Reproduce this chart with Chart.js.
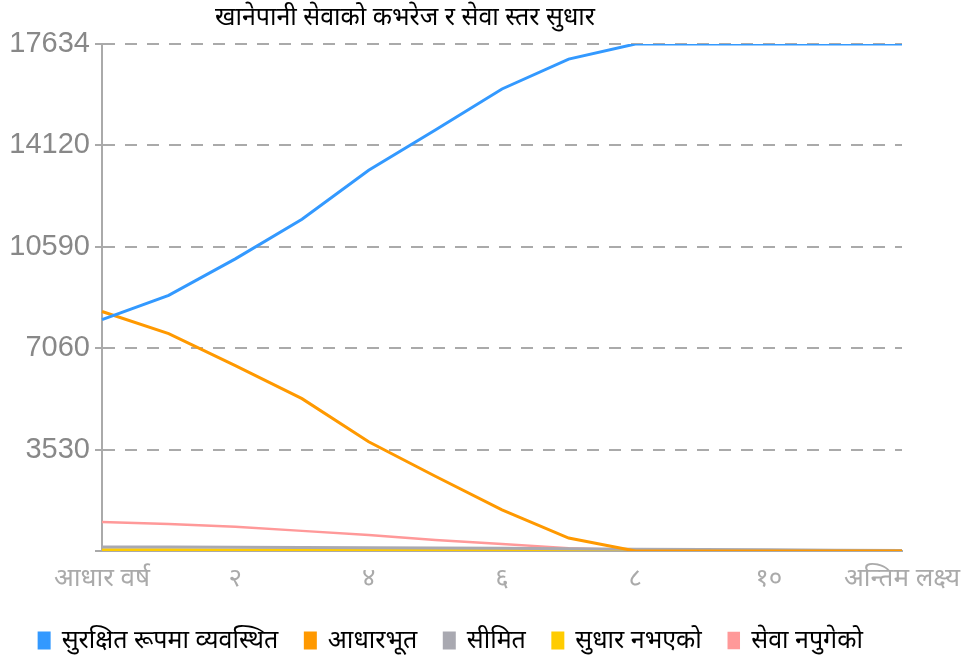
<!DOCTYPE html>
<html>
<head>
<meta charset="utf-8">
<script src="https://cdn.jsdelivr.net/npm/chart.js@4/dist/chart.umd.min.js"></script>
<style>
html,body{margin:0;padding:0;background:#fff;}
#wrap{width:965px;height:663px;}
</style>
</head>
<body>
<div id="wrap"><canvas id="c" width="965" height="663"></canvas></div>
<script>
const TITLE = 'खानेपानी सेवाको कभरेज र सेवा स्तर सुधार';
const CATEGORIES = ['आधार वर्ष','१','२','३','४','५','६','७','८','९','१०','११','अन्तिम लक्ष्य'];
const SERIES_NAMES = ['सुरक्षित रूपमा व्यवस्थित','आधारभूत','सीमित','सुधार नभएको','सेवा नपुगेको'];
const SAFE      = [8050, 8890, 10160, 11540, 13240, 14640, 16070, 17110, 17634, 17634, 17634, 17634, 17634];
const BASIC     = [8330, 7560, 6450, 5300, 3800, 2600, 1430, 450, 0, 0, 0, 0, 0];
const LIMITED   = [140, 135, 130, 125, 115, 105, 95, 80, 60, 50, 40, 30, 20];
const UNIMPROVED= [40, 40, 35, 35, 30, 30, 25, 20, 15, 10, 10, 5, 0];
const NOSERVICE = [1010, 940, 840, 700, 560, 380, 240, 100, 30, 0, 0, 0, 0];
const Y_TICKS = [0, 3530, 7060, 10590, 14120, 17634];
const COLORS = ['#3399ff', '#ff9900', '#a9a9b1', '#ffcc00', '#ff9999'];

const VALUES = [SAFE, BASIC, LIMITED, UNIMPROVED, NOSERVICE];
const datasets = SERIES_NAMES.map((name, i) => ({
  label: name,
  data: VALUES[i],
  borderColor: COLORS[i],
  backgroundColor: COLORS[i],
  borderWidth: i === 4 ? 2.5 : 3,
  pointRadius: 0,
  tension: 0,
  fill: false
}));

const titlePlugin = {
  id: 'customTitle',
  afterDraw(chart) {
    const ctx = chart.ctx;
    ctx.save();
    ctx.font = '25px "Noto Sans", sans-serif';
    ctx.fillStyle = '#000';
    ctx.textAlign = 'center';
    ctx.textBaseline = 'middle';
    ctx.fillText(TITLE, 405, 18);
    ctx.restore();
  }
};

new Chart(document.getElementById('c'), {
  type: 'line',
  data: { labels: CATEGORIES, datasets },
  plugins: [titlePlugin],
  options: {
    responsive: false,
    animation: false,
    layout: { padding: { top: 44, right: 63, left: 0, bottom: 0 } },
    plugins: {
      title: { display: false },
      tooltip: { enabled: false },
      legend: {
        position: 'bottom',
        labels: {
          boxWidth: 10,
          boxHeight: 15,
          padding: 27,
          color: '#000',
          font: { size: 25, family: '"Noto Sans", sans-serif' }
        }
      }
    },
    scales: {
      x: {
        grid: { display: false, drawTicks: false },
        border: { display: true, color: '#aaa', width: 2 },
        ticks: {
          autoSkip: false,
          maxRotation: 0,
          color: '#aaa',
          padding: 12,
          font: { size: 26, family: '"Noto Sans", sans-serif' },
          callback: (v, i) => (i % 2 === 0 ? CATEGORIES[i] : '')
        },
        afterFit: s => { s.height = 50; s.paddingRight = 0; s.paddingLeft = 0; }
      },
      y: {
        min: 0,
        max: 17634,
        afterBuildTicks: s => { s.ticks = Y_TICKS.map(v => ({ value: v })); },
        afterFit: s => { s.width = 102; },
        grid: { color: '#aaa', lineWidth: 2, tickLength: 7 },
        border: { display: true, color: '#aaa', width: 2, dash: [12, 10] },
        ticks: {
          color: '#888',
          padding: 5,
          font: { size: 29, family: '"Liberation Sans", Arial, sans-serif' },
          callback: v => (v === 0 ? '' : String(v))
        }
      }
    }
  }
});
</script>
</body>
</html>
